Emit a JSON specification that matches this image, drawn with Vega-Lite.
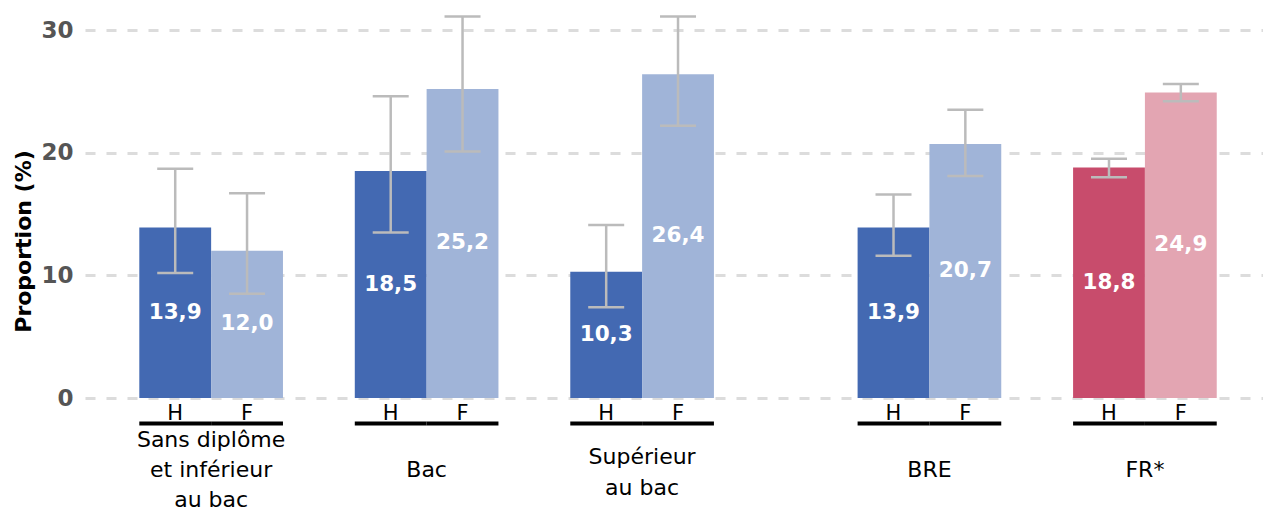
{
  "$schema": "https://vega.github.io/schema/vega-lite/v6.json",
  "width": 1178,
  "height": 398,
  "autosize": {"type": "none"},
  "padding": {"left": 85, "top": 0, "right": 0, "bottom": 111},
  "background": "white",
  "config": {
    "view": {"stroke": null},
    "font": "DejaVu Sans",
    "locale": {"number": {"decimal": ",", "thousands": " ", "grouping": [3], "currency": ["", " €"]}}
  },
  "datasets": {
    "bars": [
      {"key": "g1|H", "serie": "H", "v": 13.9, "lo": 10.2, "hi": 18.7},
      {"key": "g1|F", "serie": "F", "v": 12.0, "lo": 8.5, "hi": 16.7},
      {"key": "g2|H", "serie": "H", "v": 18.5, "lo": 13.5, "hi": 24.6},
      {"key": "g2|F", "serie": "F", "v": 25.2, "lo": 20.1, "hi": 31.1},
      {"key": "g3|H", "serie": "H", "v": 10.3, "lo": 7.4, "hi": 14.1},
      {"key": "g3|F", "serie": "F", "v": 26.4, "lo": 22.2, "hi": 31.1},
      {"key": "bre|H", "serie": "H", "v": 13.9, "lo": 11.6, "hi": 16.6},
      {"key": "bre|F", "serie": "F", "v": 20.7, "lo": 18.1, "hi": 23.5},
      {"key": "fr|H", "serie": "FR H", "v": 18.8, "lo": 18.0, "hi": 19.5},
      {"key": "fr|F", "serie": "FR F", "v": 24.9, "lo": 24.2, "hi": 25.6}
    ],
    "groups": [
      {"h": "g1|H", "label": ["Sans diplôme", "et inférieur", "au bac"]},
      {"h": "g2|H", "label": ["Bac"]},
      {"h": "g3|H", "label": ["Supérieur", "au bac"]},
      {"h": "bre|H", "label": ["BRE"]},
      {"h": "fr|H", "label": ["FR*"]}
    ]
  },
  "resolve": {"scale": {"y": "independent"}},
  "layer": [
    {
      "data": {"name": "bars"},
      "layer": [
        {
          "mark": {"type": "bar"},
          "encoding": {
            "x": {
              "field": "key", "type": "nominal", "title": null,
              "scale": {"domain": ["g1|H", "g1|F", "e1|", "g2|H", "g2|F", "e2|", "g3|H", "g3|F", "e3|", "e4|", "bre|H", "bre|F", "e5|", "fr|H", "fr|F"], "paddingInner": 0, "paddingOuter": 0.7, "align": 0.54},
              "axis": {"labelExpr": "split(datum.value, '|')[1]", "labelAngle": 0, "labelFontSize": 21, "labelColor": "black", "labelPadding": 4, "domain": false, "ticks": false, "labelFont": "DejaVu Sans"}
            },
            "y": {
              "field": "v", "type": "quantitative", "title": "Proportion (%)",
              "scale": {"domain": [0, 32.45], "nice": false, "zero": true},
              "axis": {"values": [0, 10, 20, 30], "domain": false, "ticks": false, "labelFontSize": 23, "labelFontWeight": "bold", "labelColor": "#555555", "labelPadding": 12, "titleFontSize": 22, "titleFontWeight": "bold", "titleColor": "black", "titlePadding": 5, "titleY": 241, "gridColor": "#dcdcdc", "gridWidth": 3, "gridDash": [10, 11]}
            },
            "color": {
              "field": "serie", "type": "nominal", "legend": null,
              "scale": {"domain": ["H", "F", "FR H", "FR F"], "range": ["#4369b2", "#a0b4d8", "#c84c6c", "#e3a5b2"]}
            }
          }
        },
        {
          "mark": {"type": "bar", "color": "black"},
          "encoding": {
            "x": {"field": "key", "type": "nominal", "title": null},
            "y": {"datum": -1.92},
            "y2": {"datum": -2.25}
          }
        },
        {
          "mark": {"type": "rule", "color": "#bbbbbb", "strokeWidth": 2.5},
          "encoding": {
            "x": {"field": "key", "type": "nominal", "title": null},
            "y": {"field": "lo", "type": "quantitative"},
            "y2": {"field": "hi"}
          }
        },
        {
          "mark": {"type": "tick", "color": "#bbbbbb", "size": 36, "thickness": 2.5, "opacity": 1},
          "encoding": {
            "x": {"field": "key", "type": "nominal", "title": null},
            "y": {"field": "lo", "type": "quantitative"}
          }
        },
        {
          "mark": {"type": "tick", "color": "#bbbbbb", "size": 36, "thickness": 2.5, "opacity": 1},
          "encoding": {
            "x": {"field": "key", "type": "nominal", "title": null},
            "y": {"field": "hi", "type": "quantitative"}
          }
        },
        {
          "data": {"name": "groups"},
          "transform": [{"filter": "length(datum.label) == 1"}],
          "mark": {"type": "text", "fontSize": 22, "color": "black", "baseline": "middle", "align": "center", "lineHeight": 31},
          "encoding": {
            "x": {"field": "h", "type": "nominal", "bandPosition": 1, "title": null},
            "y": {"datum": -5.87},
            "text": {"field": "label"}
          }
        },
        {
          "data": {"name": "groups"},
          "transform": [{"filter": "length(datum.label) == 2"}],
          "mark": {"type": "text", "fontSize": 22, "color": "black", "baseline": "middle", "align": "center", "lineHeight": 31},
          "encoding": {
            "x": {"field": "h", "type": "nominal", "bandPosition": 1, "title": null},
            "y": {"datum": -4.85},
            "text": {"field": "label"}
          }
        },
        {
          "data": {"name": "groups"},
          "transform": [{"filter": "length(datum.label) == 3"}],
          "mark": {"type": "text", "fontSize": 22, "color": "black", "baseline": "middle", "align": "center", "lineHeight": 30},
          "encoding": {
            "x": {"field": "h", "type": "nominal", "bandPosition": 1, "title": null},
            "y": {"datum": -3.45},
            "text": {"field": "label"}
          }
        }
      ]
    },
    {
      "data": {"name": "bars"},
      "mark": {"type": "text", "color": "white", "fontSize": 21.5, "fontWeight": "bold", "baseline": "middle", "align": "center"},
      "encoding": {
        "x": {"field": "key", "type": "nominal", "title": null},
        "y": {"field": "v", "type": "quantitative", "scale": {"domain": [0, 64.9], "nice": false}, "axis": null},
        "text": {"field": "v", "type": "quantitative", "format": ".1f"}
      }
    }
  ]
}
